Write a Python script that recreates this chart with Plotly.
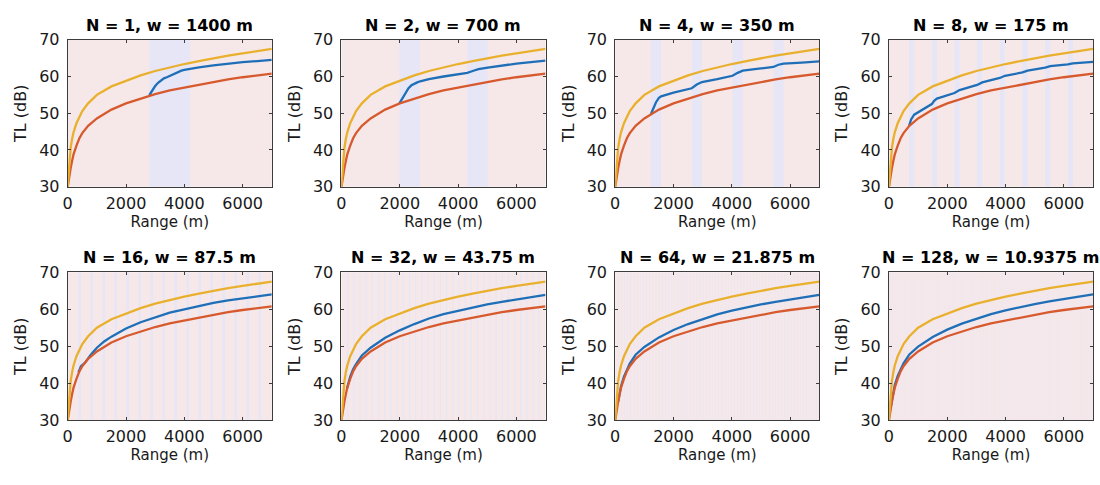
import plotly.graph_objects as go

# ---- data ----
range_m = [0, 25, 50, 100, 150, 200, 300, 400, 500, 700, 1000, 1500, 2000, 2500,
           3000, 3500, 4000, 4500, 5000, 5500, 6000, 6500, 7000]
tl_upper = [30, 33, 36, 40.5, 43, 44.8, 47.3, 49.2, 50.6, 52.7, 55.0, 57.3, 58.9, 60.3,
            61.5, 62.5, 63.4, 64.2, 65.0, 65.7, 66.3, 66.9, 67.5]
tl_lower = [30, 31.5, 33, 35, 37, 38.8, 41.2, 43.2, 44.6, 46.6, 48.6, 51.0, 52.7, 54.0,
            55.2, 56.2, 57.0, 57.8, 58.5, 59.2, 59.8, 60.3, 60.8]

n_windows = [1, 2, 4, 8, 16, 32, 64, 128]
window_w = [1400, 700, 350, 175, 87.5, 43.75, 21.875, 10.9375]
panel_titles = ["N = 1, w = 1400 m", "N = 2, w = 700 m", "N = 4, w = 350 m",
                "N = 8, w = 175 m", "N = 16, w = 87.5 m", "N = 32, w = 43.75 m",
                "N = 64, w = 21.875 m", "N = 128, w = 10.9375 m"]

blue_range = [
    [2800, 2900, 3000, 3100, 3200, 3300, 3400, 3500, 3600, 3700, 3800, 3900, 4000, 4200,
     4500, 5000, 5500, 6000, 6500, 7000],
    [1983, 2100, 2200, 2300, 2400, 2500, 2600, 2700, 3000, 3500, 4000, 4317, 4500, 4700,
     5017, 5500, 6000, 6500, 7000],
    [1225, 1300, 1400, 1500, 1575, 2000, 2625, 2800, 2975, 3500, 4025, 4200, 4375, 5000,
     5425, 5600, 5775, 6400, 7000],
    [690, 760, 865, 1469, 1550, 1644, 2246, 2421, 3024, 3199, 3802, 3977, 4580, 4755,
     5358, 5533, 6135, 6310, 7000],
    [368, 455, 600, 800, 1000, 1250, 1500, 2000, 2500, 3000, 3500, 4000, 4500, 5000,
     5500, 6000, 6500, 7000],
    [191, 300, 400, 500, 700, 1000, 1500, 2000, 2500, 3000, 3500, 4000, 4500, 5000,
     5500, 6000, 6500, 7000],
    [100, 200, 300, 500, 700, 1000, 1500, 2000, 2500, 3000, 3500, 4000, 4500, 5000,
     5500, 6000, 6500, 7000],
    [50, 100, 200, 300, 500, 700, 1000, 1500, 2000, 2500, 3000, 3500, 4000, 4500, 5000,
     5500, 6000, 6500, 7000],
]
blue_tl = [
    [54.9, 56.3, 57.4, 58.3, 59.0, 59.5, 59.8, 60.2, 60.6, 61.0, 61.3, 61.6, 61.8, 62.1,
     62.5, 63.0, 63.5, 63.9, 64.2, 64.5],
    [52.6, 54.2, 55.6, 56.8, 57.6, 58.1, 58.4, 58.7, 59.3, 60.0, 60.6, 61.0, 61.5, 62.0,
     62.4, 63.0, 63.5, 63.9, 64.3],
    [49.8, 51.2, 53.0, 54.2, 54.6, 55.6, 56.8, 57.8, 58.5, 59.3, 60.2, 61.0, 61.6, 62.2,
     62.6, 63.2, 63.5, 63.8, 64.1],
    [46.6, 48.3, 49.6, 52.5, 53.4, 54.0, 55.5, 56.3, 57.7, 58.4, 59.6, 60.2, 61.1, 61.6,
     62.4, 62.8, 63.3, 63.6, 64.0],
    [42.9, 44.6, 45.6, 47.8, 49.6, 51.3, 52.6, 54.8, 56.5, 57.9, 59.1, 60.0, 60.9, 61.7,
     62.4, 63.0, 63.5, 64.0],
    [38.6, 41.8, 43.8, 45.2, 47.5, 49.6, 52.3, 54.3, 56.0, 57.5, 58.7, 59.6, 60.5, 61.3,
     62.0, 62.7, 63.3, 63.9],
    [35.0, 39.2, 41.8, 45.3, 47.7, 49.8, 52.4, 54.4, 56.0, 57.4, 58.6, 59.6, 60.5, 61.3,
     62.0, 62.7, 63.3, 63.9],
    [33.0, 35.3, 39.5, 42.0, 45.4, 47.8, 49.9, 52.5, 54.5, 56.1, 57.5, 58.7, 59.7, 60.6,
     61.4, 62.1, 62.8, 63.4, 64.0],
]

x_ticks = [0, 2000, 4000, 6000]
y_ticks = [30, 40, 50, 60, 70]

# ---- style ----
C_BLUE = "#1f6fb8"
C_RED = "#d75a2e"
C_ORANGE = "#e9b02e"
BG_PINK = "rgb(246,232,232)"
BAND = "rgb(231,230,246)"
AXC = "rgb(60,60,60)"
FONT = "DejaVu Sans"

W, H = 1100, 485
col_left = [63, 338, 613, 888]
plot_w = 205
row_top = [32, 274]
row_bottom = [185, 428]
X_MAX = 7000

fig = go.Figure()
layout = dict(
    width=W, height=H, margin=dict(l=0, r=0, t=0, b=0),
    paper_bgcolor="white", plot_bgcolor=BG_PINK,
    font=dict(family=FONT, size=15, color="rgb(25,25,25)"),
    showlegend=False,
)
shapes = []
annotations = []

for i, n in enumerate(n_windows):
    r, c = divmod(i, 4)
    k = i + 1
    xa = "x" if k == 1 else f"x{k}"
    ya = "y" if k == 1 else f"y{k}"
    xkey = "xaxis" if k == 1 else f"xaxis{k}"
    ykey = "yaxis" if k == 1 else f"yaxis{k}"
    x0 = col_left[c] / W
    x1 = (col_left[c] + plot_w) / W
    y0 = (H - row_bottom[r]) / H
    y1 = (H - row_top[r]) / H
    common = dict(showgrid=False, zeroline=False, showline=True, linecolor=AXC,
                  linewidth=1, mirror="ticks", ticks="inside", ticklen=3,
                  tickcolor=AXC, tickfont=dict(size=16, family=FONT))
    layout[xkey] = dict(domain=[x0, x1], anchor=ya, range=[0, X_MAX],
                        tickvals=x_ticks, ticktext=[str(v) for v in x_ticks],
                        ticklabelstandoff=2,
                        title=dict(text="Range (m)", standoff=3,
                                   font=dict(size=15, family=FONT)), **common)
    layout[ykey] = dict(domain=[y0, y1], anchor=xa, range=[30, 70],
                        tickvals=y_ticks, ticktext=[str(v) for v in y_ticks],
                        ticklabelstandoff=4,
                        title=dict(text="TL (dB)", standoff=8,
                                   font=dict(size=16, family=FONT)), **common)

    # shaded windows
    w = window_w[i]
    for j in range(1, n + 1):
        cen = j * X_MAX / (n + 1)
        shapes.append(dict(type="rect", xref=xa, yref=ya, x0=cen - w / 2, x1=cen + w / 2,
                           y0=30, y1=70, fillcolor=BAND, line=dict(width=0),
                           layer="below"))

    fig.add_trace(go.Scatter(x=blue_range[i], y=blue_tl[i], mode="lines",
                             line=dict(color=C_BLUE, width=2.3), xaxis=xa, yaxis=ya))
    fig.add_trace(go.Scatter(x=range_m, y=tl_lower, mode="lines",
                             line=dict(color=C_RED, width=2.3), xaxis=xa, yaxis=ya))
    fig.add_trace(go.Scatter(x=range_m, y=tl_upper, mode="lines",
                             line=dict(color=C_ORANGE, width=2.3), xaxis=xa, yaxis=ya))

    annotations.append(dict(text=f"<b>{panel_titles[i]}</b>", xref="paper", yref="paper",
                            x=(x0 + x1) / 2, y=y1, yanchor="bottom", xanchor="center",
                            yshift=3, showarrow=False,
                            font=dict(size=16, family=FONT, color="black")))

layout["shapes"] = shapes
layout["annotations"] = annotations
fig.update_layout(**layout)
fig.write_html("out.html")
